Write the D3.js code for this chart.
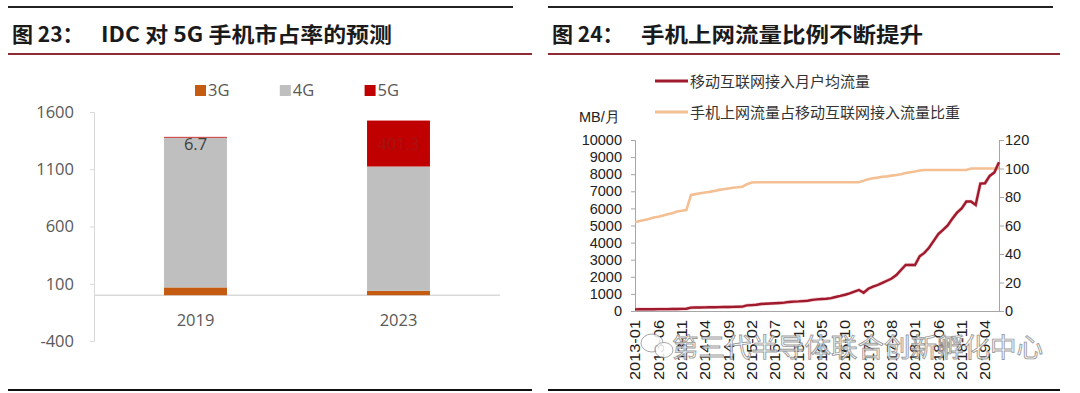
<!DOCTYPE html>
<html>
<head>
<meta charset="utf-8">
<script src="https://cdn.jsdelivr.net/npm/d3@7"></script>
<style>
  body { margin: 0; background: #fff; }
  svg { display: block; }
</style>
</head>
<body>
<svg class="canvas" width="1080" height="393"></svg>
<script>
// fig 23 - IDC 5G share forecast (stacked bars)
var years = ["2019", "2023"]
var share3G = [68, 38]
var share4G = [1308, 1086]
var share5G = [6.7, 401.3]
var barLabels = ["6.7", "401.3"]
var barTicks = [-400, 100, 600, 1100, 1600]

// fig 24 - monthly traffic, 2013-01 .. 2019-07
var trafficPerUser = [
  95, 98, 100, 102, 105, 108, 110, 112, 115, 118, 122, 130,
  200, 205, 208, 212, 218, 222, 228, 232, 238, 242, 248, 255,
  330, 345, 365,
  410, 425, 440, 455, 470, 490,
  530, 550, 560, 580, 600, 650, 680, 700, 720, 750, 820, 880, 950, 1030, 1130, 1230,
  1070, 1300, 1420, 1520, 1640, 1770, 1900, 2100, 2400, 2690, 2700, 2690,
  3200, 3400, 3700, 4100, 4500, 4750, 5000, 5400, 5750, 6000, 6400, 6400, 6200, 7450, 7470, 7900, 8100, 8700
]
var phoneShare = [
  62.3, 63.1, 63.9, 64.5, 65.6, 66.2, 67.0, 67.9, 68.6, 69.8, 70.3, 70.8,
  81.4, 82.0, 82.6, 83.2, 83.6, 84.2, 85.0, 85.5, 86.0, 86.5, 86.8, 87.2, 89.0, 90.2,
  90.3, 90.3, 90.3, 90.3, 90.3, 90.3, 90.3, 90.3, 90.3, 90.3, 90.3, 90.3,
  90.3, 90.3, 90.3, 90.3, 90.3, 90.3, 90.3, 90.3, 90.3, 90.3, 90.3,
  91.5, 92.5, 93.1, 93.6, 94.2, 94.5, 95.0, 95.4, 96.0, 96.8, 97.4, 97.9, 98.6,
  98.9, 98.9, 98.9, 98.9, 98.9, 98.9, 98.9, 98.9, 98.9, 98.9,
  100, 100, 100, 100, 100, 100, 100
]
var monthTicks = ["2013-01", "2013-06", "2013-11", "2014-04", "2014-09", "2015-02", "2015-07", "2015-12",
  "2016-05", "2016-10", "2017-03", "2017-08", "2018-01", "2018-06", "2018-11", "2019-04"]
var seriesNames = ["移动互联网接入月户均流量", "手机上网流量占移动互联网接入流量比重"]

var months = d3.timeMonth.range(new Date(2013, 0, 1), new Date(2019, 7, 1)).map(d3.timeFormat("%Y-%m"))
var plain = function(d) { return String(d) }

var svg = d3.select(".canvas")

function header(x0, x1, xr, label, title, titleLen) {
  svg.append("line").attr("x1", x0).attr("x2", x1).attr("y1", 7).attr("y2", 7)
    .attr("stroke", "#222").attr("stroke-width", 2)
  svg.append("line").attr("x1", x0).attr("x2", xr).attr("y1", 54).attr("y2", 54)
    .attr("stroke", "#8e2a33").attr("stroke-width", 2)
  svg.append("line").attr("x1", x0).attr("x2", xr).attr("y1", 390).attr("y2", 390)
    .attr("stroke", "#111").attr("stroke-width", 2)
  var t = svg.append("g").attr("font-family", "'Noto Sans CJK SC', sans-serif")
    .attr("font-weight", "bold").attr("font-size", 21).attr("fill", "#1a1a1a")
  t.append("text").attr("x", x0 + 4).attr("y", 42).text(label)
  t.append("text").attr("x", x0 + 93).attr("y", 42).attr("textLength", titleLen)
    .attr("lengthAdjust", "spacingAndGlyphs").text(title)
}

header(8, 513, 532, "图 23：", "IDC 对 5G 手机市占率的预测", 291)
header(548, 1053, 1060, "图 24：", "手机上网流量比例不断提升", 282)

// ---------- left: stacked bars ----------
var barColors = { "3G": "#c55a11", "4G": "#bfbfbf", "5G": "#c00000" }
var rows = years.map(function(y, i) { return { year: y, "3G": share3G[i], "4G": share4G[i], "5G": share5G[i] } })
var stack = d3.stack().keys(["3G", "4G", "5G"])(rows)

var bx = d3.scaleBand().domain(years).range([94, 500]).paddingInner(0.69).paddingOuter(0.345)
var by = d3.scaleLinear().domain([-400, 1600]).range([341, 112])

var left = svg.append("g").attr("font-family", "'Open Sans', sans-serif").attr("fill", "#595959")

var yAx = left.append("g").attr("transform", "translate(94,0)")
  .call(d3.axisLeft(by).tickValues(barTicks).tickFormat(plain).tickSize(4).tickPadding(16))
yAx.select(".domain").attr("stroke", "#d9d9d9")
yAx.selectAll(".tick line").attr("stroke", "#d9d9d9")
yAx.selectAll("text").attr("font-size", 16.5).attr("fill", "#595959").attr("font-family", "'Open Sans', sans-serif")

left.append("line").attr("x1", 94).attr("x2", 500).attr("y1", by(0)).attr("y2", by(0))
  .attr("stroke", "#d9d9d9").attr("stroke-width", 1.5)

left.selectAll("g.layer").data(stack).enter().append("g").attr("class", "layer")
  .attr("fill", function(d) { return barColors[d.key] })
  .selectAll("rect").data(function(d) { return d }).enter().append("rect")
  .attr("x", function(d) { return bx(d.data.year) })
  .attr("width", bx.bandwidth())
  .attr("y", function(d) { return by(d[1]) })
  .attr("height", function(d) { return by(d[0]) - by(d[1]) })

left.selectAll("text.cat").data(years).enter().append("text").attr("class", "cat")
  .attr("x", function(d) { return bx(d) + bx.bandwidth() / 2 }).attr("y", 326)
  .attr("text-anchor", "middle").attr("font-size", 16.5).text(function(d) { return d })

// 5G labels
left.selectAll("text.val").data(stack[2]).enter().append("text").attr("class", "val")
  .attr("x", function(d) { return bx(d.data.year) + bx.bandwidth() / 2 })
  .attr("y", function(d, i) { return i == 0 ? 150 : (by(d[0]) + by(d[1])) / 2 + 6 })
  .attr("text-anchor", "middle").attr("font-size", 16.5)
  .attr("fill", function(d, i) { return i == 0 ? "#404040" : "#a51414" })
  .text(function(d, i) { return barLabels[i] })

var lg = left.selectAll("g.lg").data(["3G", "4G", "5G"]).enter().append("g").attr("class", "lg")
  .attr("transform", function(d, i) { return "translate(" + (195 + i * 84.8) + ",85)" })
lg.append("rect").attr("width", 11).attr("height", 11).attr("fill", function(d) { return barColors[d] })
lg.append("text").attr("x", 13).attr("y", 11).attr("font-size", 16.5).text(function(d) { return d })

// ---------- right: dual axis lines ----------
var lx = d3.scalePoint().domain(months).range([635, 999])
var ly = d3.scaleLinear().domain([0, 10000]).range([311, 140])
var ry = d3.scaleLinear().domain([0, 120]).range([311, 140])

var right = svg.append("g").attr("font-family", "'Liberation Sans', Arial, sans-serif").attr("fill", "#222")

function styleAxis(g) {
  g.select(".domain").attr("stroke", "#a6a6a6")
  g.selectAll(".tick line").attr("stroke", "#a6a6a6")
  g.selectAll("text").attr("font-size", 14.5).attr("fill", "#222")
    .attr("font-family", "'Liberation Sans', Arial, sans-serif")
}

right.append("g").attr("transform", "translate(635,0)")
  .call(d3.axisLeft(ly).tickValues(d3.range(0, 10001, 1000)).tickFormat(plain).tickSize(4).tickPadding(9).tickSizeOuter(4))
  .call(styleAxis)
right.append("g").attr("transform", "translate(999,0)")
  .call(d3.axisRight(ry).tickValues(d3.range(0, 121, 20)).tickFormat(plain).tickSize(5).tickPadding(1).tickSizeOuter(5))
  .call(styleAxis)

var xAx = right.append("g").attr("transform", "translate(0,311)")
  .call(d3.axisBottom(lx).tickValues(monthTicks).tickSize(0).tickSizeOuter(0))
xAx.select(".domain").attr("stroke", "#a6a6a6")
xAx.selectAll("text").attr("font-size", 14).attr("fill", "#222")
  .attr("font-family", "'Liberation Sans', Arial, sans-serif")
  .attr("text-anchor", "end").attr("dy", "0.35em")
  .attr("transform", "translate(0,9) rotate(-90)")
  .attr("x", 0).attr("y", 0)
  .attr("textLength", 60).attr("lengthAdjust", "spacingAndGlyphs")

right.append("text").attr("x", 579).attr("y", 122).attr("font-size", 14.5).text("MB/月")

var lineL = d3.line().x(function(d, i) { return lx(months[i]) }).y(function(d) { return ly(d) })
var lineR = d3.line().x(function(d, i) { return lx(months[i]) }).y(function(d) { return ry(d) })

right.append("path").datum(phoneShare).attr("d", lineR)
  .attr("fill", "none").attr("stroke", "#f4bf93").attr("stroke-width", 2.6)
right.append("path").datum(trafficPerUser).attr("d", lineL)
  .attr("fill", "none").attr("stroke", "#e7a0a8").attr("stroke-width", 3.6).attr("opacity", 0.6)
right.append("path").datum(trafficPerUser).attr("d", lineL)
  .attr("fill", "none").attr("stroke", "#9e1a2c").attr("stroke-width", 2.4)

var key = right.selectAll("g.key").data(seriesNames).enter().append("g").attr("class", "key")
  .attr("transform", function(d, i) { return "translate(655," + (81 + i * 31) + ")" })
key.append("line").attr("x1", 0).attr("x2", 33)
  .attr("stroke", function(d, i) { return i == 0 ? "#9e1a2c" : "#f4bf93" }).attr("stroke-width", 3)
key.append("text").attr("x", 35).attr("y", 5.5).attr("font-size", 15)
  .attr("font-family", "'Noto Sans CJK SC', sans-serif").attr("fill", "#333")
  .text(function(d) { return d })

// watermark
var wm = svg.append("g").attr("fill", "#fff").attr("stroke", "#8c8c8c").attr("stroke-width", 0.9).attr("opacity", 0.85)
wm.append("ellipse").attr("cx", 652).attr("cy", 343).attr("rx", 11).attr("ry", 9)
wm.append("ellipse").attr("cx", 664).attr("cy", 350).attr("rx", 9).attr("ry", 7.5)
wm.append("text").attr("x", 672).attr("y", 357).attr("font-size", 26)
  .attr("font-family", "'Noto Sans CJK SC', sans-serif")
  .attr("textLength", 371).attr("lengthAdjust", "spacingAndGlyphs")
  .text("第三代半导体联合创新孵化中心")
</script>
</body>
</html>
